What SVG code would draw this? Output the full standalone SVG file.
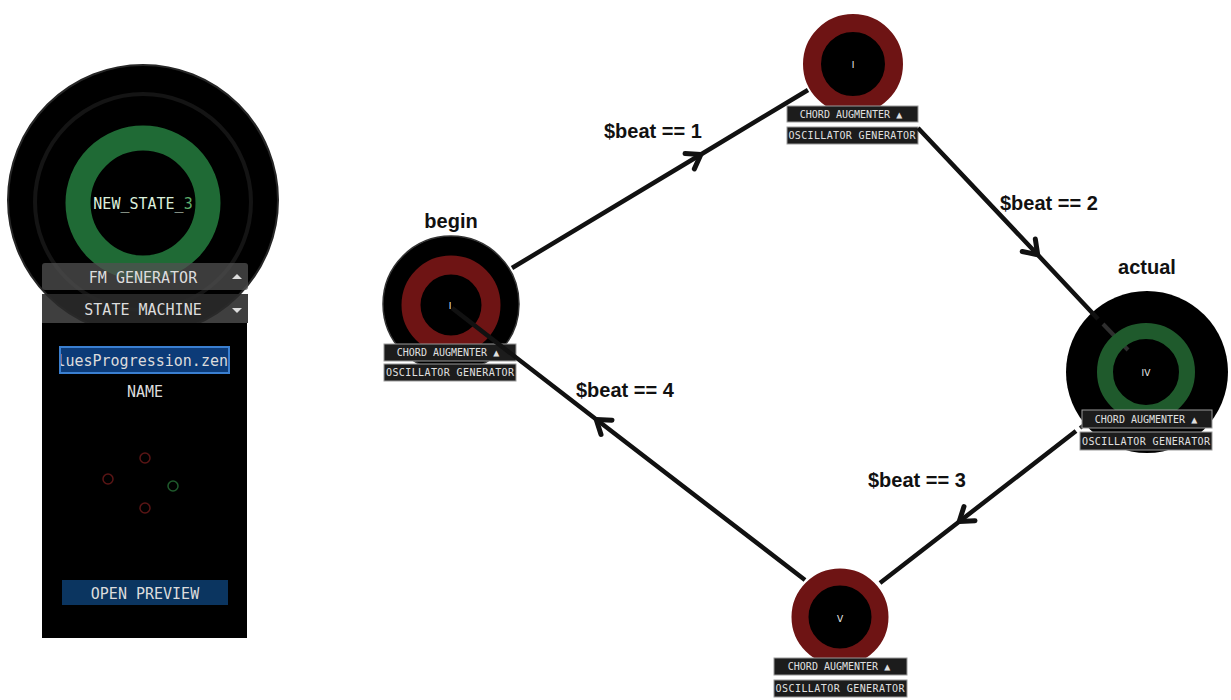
<svg xmlns="http://www.w3.org/2000/svg" width="1231" height="700" viewBox="0 0 1231 700">
<style>
.ui{font-family:"DejaVu Sans Mono","Liberation Mono",monospace;fill:#dcdcdc;text-anchor:middle}
.bar{fill:#1c1c1c;stroke:#9a9a9a;stroke-width:1}
.bt{font-family:"DejaVu Sans Mono","Liberation Mono",monospace;font-size:10px;fill:#e0e0e0;text-anchor:middle}
.lbl{font-family:"Liberation Sans","DejaVu Sans",sans-serif;font-weight:bold;font-size:20px;fill:#111}
.edge{fill:none;stroke:#111;stroke-width:4.5;marker-mid:url(#chev)}
.ghost{fill:none;stroke:#2e2e2e;stroke-width:4}
.red{fill:none;stroke:#6e1414}
.nid{font-family:"DejaVu Sans",sans-serif;font-size:9px;fill:#eee;text-anchor:middle}
</style>
<defs>
<marker id="chev" markerUnits="userSpaceOnUse" markerWidth="30" markerHeight="30" refX="0" refY="0" viewBox="-15 -15 30 30" orient="auto" overflow="visible">
<path d="M -12 -9 L 1 0 L -12 9" fill="none" stroke="#111" stroke-width="5" stroke-linecap="round" stroke-linejoin="round"/>
</marker>
<clipPath id="inclip"><rect x="61" y="348" width="167" height="24"/></clipPath>
</defs>
<rect width="1231" height="700" fill="#ffffff"/>

<g id="left-panel">
<circle cx="143" cy="200" r="135" fill="#000" stroke="#262626" stroke-width="2"/>
<circle cx="143" cy="202" r="108" fill="none" stroke="#141414" stroke-width="4"/>
<circle cx="143" cy="203" r="65" fill="none" stroke="#1f6a35" stroke-width="25"/>
<text class="ui" x="143" y="209" font-size="15"><tspan fill="#dcefdc">NEW_STATE_</tspan><tspan fill="#5fae6a">3</tspan></text>
<rect x="42" y="263" width="206" height="27" rx="3" fill="#505050" fill-opacity="0.75"/>
<text class="ui" x="143" y="283" font-size="15">FM GENERATOR</text>
<path d="M232 279 L237 274 L242 279 Z" fill="#ddd"/>
<rect x="42" y="294" width="206" height="29" fill="#2a2a2a" fill-opacity="0.9"/>
<text class="ui" x="143" y="315" font-size="15">STATE MACHINE</text>
<path d="M232 308 L237 313 L242 308 Z" fill="#ddd"/>
<rect x="42" y="323" width="205" height="315" fill="#000"/>
<rect x="60" y="347" width="169" height="26" fill="#0c3b78" stroke="#3a7fd0" stroke-width="2"/>
<g clip-path="url(#inclip)"><text class="ui" x="228" y="366" font-size="15" style="text-anchor:end" fill="#f0f0f0">bluesProgression.zen</text></g>
<text class="ui" x="145" y="397" font-size="15">NAME</text>
<circle cx="145" cy="458" r="5" fill="none" stroke="#5a1515" stroke-width="1.5"/>
<circle cx="108" cy="479" r="5" fill="none" stroke="#5a1515" stroke-width="1.5"/>
<circle cx="145" cy="508" r="5" fill="none" stroke="#5a1515" stroke-width="1.5"/>
<circle cx="173" cy="486" r="5" fill="none" stroke="#1f5a2c" stroke-width="1.5"/>
<rect x="62" y="580" width="166" height="25" fill="#0b3560"/>
<text class="ui" x="145" y="599" font-size="15" fill="#b8cde8">OPEN PREVIEW</text>
</g>

<g id="node-begin">
<text class="lbl" x="451" y="228" text-anchor="middle">begin</text>
<circle cx="451" cy="304" r="68" fill="#000" stroke="#333" stroke-width="1.5"/>
<circle cx="451" cy="305" r="40" class="red" stroke-width="19"/>
<text class="nid" x="450" y="309">I</text>
<rect class="bar" x="384" y="344" width="132" height="17"/>
<text class="bt" x="448" y="356">CHORD AUGMENTER ▲</text>
<rect class="bar" x="384" y="364" width="132" height="17"/>
<text class="bt" x="450" y="376" textLength="128">OSCILLATOR GENERATOR</text>
</g>

<g id="node-I-top">
<circle cx="853" cy="64" r="41" class="red" style="fill:#000" stroke-width="18"/>
<text class="nid" x="853" y="68">I</text>
<rect class="bar" x="787" y="106" width="131" height="16"/>
<text class="bt" x="851" y="118">CHORD AUGMENTER ▲</text>
<rect class="bar" x="787" y="127" width="131" height="17"/>
<text class="bt" x="852" y="139" textLength="127">OSCILLATOR GENERATOR</text>
</g>

<g id="node-actual">
<text class="lbl" x="1147" y="274" text-anchor="middle">actual</text>
<circle cx="1147" cy="372" r="81" fill="#000"/>
<line class="ghost" x1="1103" y1="324" x2="1128" y2="350"/>
<line class="ghost" x1="1080" y1="428" x2="1100" y2="413"/>
<circle cx="1146" cy="372" r="41" fill="none" stroke="#1f5a2c" stroke-width="16"/>
<text class="nid" x="1146" y="376">IV</text>
<rect class="bar" x="1082" y="410" width="130" height="18"/>
<text class="bt" x="1146" y="423">CHORD AUGMENTER ▲</text>
<rect class="bar" x="1080" y="432" width="132" height="18"/>
<text class="bt" x="1146" y="445" textLength="128">OSCILLATOR GENERATOR</text>
</g>

<g id="node-V">
<circle cx="840" cy="617" r="40" class="red" style="fill:#000" stroke-width="17"/>
<text class="nid" x="840" y="622">V</text>
<rect class="bar" x="774" y="658" width="133" height="17"/>
<text class="bt" x="839" y="670">CHORD AUGMENTER ▲</text>
<rect class="bar" x="774" y="680" width="133" height="17"/>
<text class="bt" x="840" y="692" textLength="129">OSCILLATOR GENERATOR</text>
</g>

<g id="connectors">
<polyline class="edge" points="512,268 700,155 808,90"/>
<polyline class="edge" points="918,128 1037,254 1098,319"/>
<polyline class="edge" points="1076,431 960,521 880,583"/>
<polyline class="edge" points="805,580 597,420 452,308"/>
</g>

<g id="edge-labels">
<text class="lbl" x="604" y="138">$beat == 1</text>
<text class="lbl" x="1000" y="210">$beat == 2</text>
<text class="lbl" x="868" y="487">$beat == 3</text>
<text class="lbl" x="576" y="397">$beat == 4</text>
</g>
</svg>
